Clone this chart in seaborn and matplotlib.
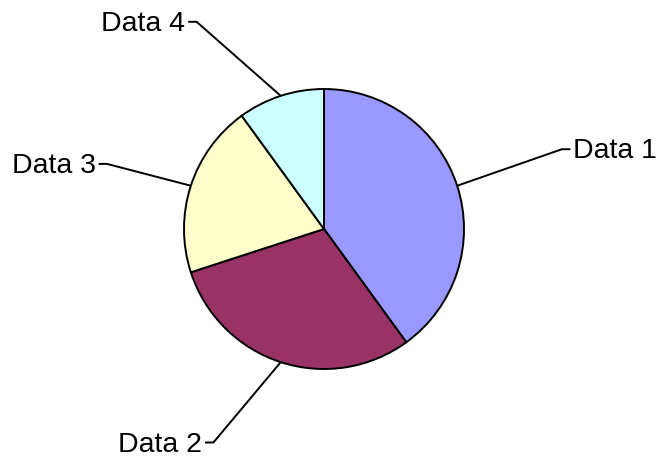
import numpy as np
import matplotlib
matplotlib.use("Agg")
import matplotlib.pyplot as plt
import seaborn as sns

categories = ["Data 1", "Data 2", "Data 3", "Data 4"]
values = [40, 30, 20, 10]
colors = ["#9999FF", "#993366", "#FFFFCC", "#CCFFFF"]

# label elbow positions (in pie-radius units) – layout only
label_pos = [(1.70, 0.57), (-0.79, -1.525), (-1.55, 0.465), (-0.91, 1.48)]

sns.set_theme(style="white")
plt.rcParams["font.family"] = ["Liberation Sans", "DejaVu Sans"]

fig = plt.figure(figsize=(6.57, 4.59), dpi=100)
ax = fig.add_axes([0, 0, 1, 1])
wedges, _ = ax.pie(values, colors=colors, startangle=90, counterclock=False,
                   radius=1.0, center=(0, 0),
                   wedgeprops=dict(edgecolor="black", linewidth=1.4))

r_px = 140.0
cx, cy = 324.0, 229.0
ax.set_xlim(-cx / r_px, (657 - cx) / r_px)
ax.set_ylim(-(459 - cy) / r_px, cy / r_px)
ax.set_aspect("auto")
ax.axis("off")

tick = 0.06
for w, lab, (ex, ey) in zip(wedges, categories, label_pos):
    mid = np.deg2rad((w.theta1 + w.theta2) / 2)
    px, py = np.cos(mid), np.sin(mid)
    if ex > 0:
        tx = ex + tick
        ha = "left"
        gap = 0.02
    else:
        tx = ex - tick
        ha = "right"
        gap = -0.02
    ax.plot([px, ex, tx], [py, ey, ey], color="black", lw=1.4,
            solid_capstyle="butt")
    ax.text(tx + gap, ey - 0.015, lab, ha=ha, va="center", fontsize=20.5,
            color="black")

fig.savefig("out.png", dpi=100)
